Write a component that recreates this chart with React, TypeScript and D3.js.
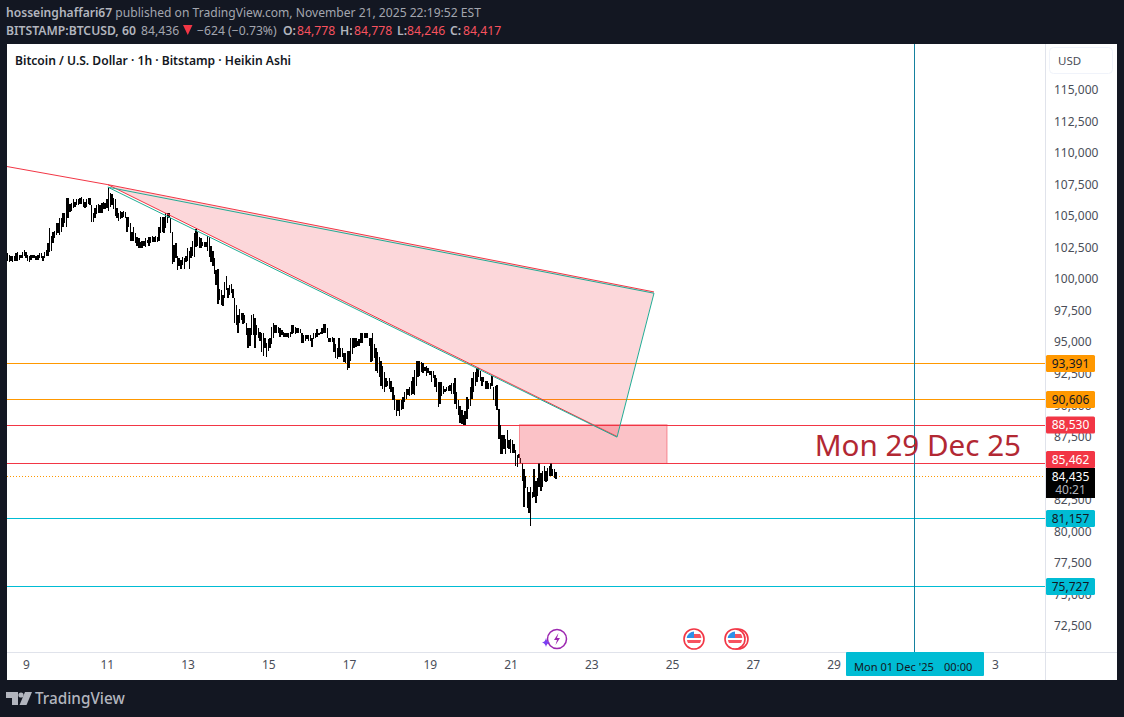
import { useEffect, useRef } from "react";
import * as d3 from "d3";

// hourly Heikin Ashi bars, thousands of USD, last bar is the one below
const lastBarTime = "2025-11-22T03:00:00Z";

const barHigh = [
  102.1,102.0,101.9,101.9,101.9,102.1,102.2,102.0,102.0,102.2,
  102.4,102.2,102.0,101.9,102.0,102.0,102.0,101.9,102.0,102.1,
  102.1,101.9,102.2,102.4,102.9,104.1,103.5,103.8,103.9,104.5,
  104.5,104.9,104.9,105.3,105.3,106.5,106.5,106.0,106.1,106.4,
  106.2,106.4,106.4,106.5,106.6,106.4,106.2,106.4,106.5,106.5,
  105.9,105.3,105.7,105.9,106.0,105.9,106.1,106.2,106.1,106.4,
  107.4,106.9,106.8,106.5,106.4,105.7,105.3,105.5,105.4,105.5,
  105.4,105.0,105.0,104.5,103.8,104.2,103.7,103.4,103.3,103.0,
  103.1,103.1,103.3,103.2,103.4,103.4,103.5,103.4,103.5,103.4,
  104.2,105.0,105.0,105.0,105.3,105.3,105.3,104.9,103.8,102.8,
  102.9,101.9,101.7,101.6,101.8,101.7,101.9,102.5,102.3,102.6,
  103.1,103.7,104.0,103.8,103.4,103.3,103.0,103.0,103.0,103.5,
  103.4,102.7,102.3,101.7,100.8,100.9,99.3,99.2,98.8,99.8,
  100.3,99.4,99.6,99.7,99.3,98.6,98.0,97.2,97.7,97.4,
  97.4,97.2,96.6,96.2,96.2,97.2,97.3,97.0,96.4,96.2,
  95.9,95.8,95.8,95.4,95.0,95.3,95.4,96.3,96.6,96.4,
  96.4,96.3,96.2,96.0,95.9,95.8,95.8,95.8,95.9,96.4,
  96.4,96.3,96.2,96.2,96.1,95.8,95.6,95.6,95.6,95.6,
  95.6,95.4,95.8,95.8,96.1,95.8,95.9,96.2,96.5,96.5,
  96.2,95.4,95.4,95.5,95.4,94.9,94.6,95.4,94.6,94.6,
  94.2,94.2,94.4,94.4,95.4,95.4,95.4,95.4,95.2,95.3,
  95.8,95.8,95.8,95.8,95.8,95.4,95.4,95.8,94.9,94.6,
  94.3,93.9,93.6,93.2,92.7,92.2,92.0,92.2,92.0,91.5,
  90.9,90.5,90.5,90.5,90.5,90.7,91.1,91.4,91.4,91.5,
  92.0,92.3,92.9,93.6,93.6,93.6,93.5,93.4,93.1,93.2,
  93.0,92.8,92.8,92.8,92.5,92.2,91.9,91.9,91.9,91.6,
  91.4,91.5,91.6,91.7,91.8,91.8,92.2,91.1,90.5,90.0,
  89.7,89.3,89.6,90.7,90.6,91.5,92.2,92.7,92.7,93.0,
  93.0,92.8,92.3,92.3,92.0,92.0,91.8,91.8,92.4,91.5,
  91.6,91.7,89.8,88.5,87.7,87.7,87.4,88.1,87.3,87.4,
  87.3,87.0,86.5,86.1,86.2,85.9,85.5,85.0,84.5,83.6,
  83.2,83.6,83.2,85.0,84.1,84.3,85.5,84.7,84.9,85.3,
  84.9,85.1,85.3,85.5,85.0,85.0,84.8,
];

const barLow = [
  101.5,101.4,101.5,101.4,101.5,101.5,101.5,101.6,101.7,101.7,
  101.9,101.7,101.5,101.4,101.6,101.7,101.7,101.6,101.6,101.7,
  101.7,101.5,101.7,101.9,101.9,102.2,102.3,102.9,103.3,103.6,
  103.7,103.6,103.8,104.2,104.5,104.2,104.9,105.4,105.5,105.7,
  105.8,105.9,105.9,106.0,106.0,105.8,105.7,105.8,106.0,105.9,
  104.6,104.6,104.9,105.2,105.3,105.3,105.3,105.6,105.6,105.7,
  105.5,105.8,105.9,105.6,105.1,104.9,104.7,104.8,104.9,105.0,
  104.9,103.8,104.2,103.1,103.1,103.1,102.9,102.7,102.5,102.5,
  102.5,102.7,102.6,102.9,102.7,102.9,103.0,103.0,103.0,103.0,
  103.1,103.7,103.8,103.7,104.1,104.5,104.9,103.7,101.3,101.4,
  101.7,100.8,101.1,100.9,101.2,100.9,101.4,101.5,100.9,101.7,
  101.9,101.8,102.6,102.7,102.5,102.5,102.7,102.6,102.6,102.3,
  101.8,101.4,101.1,100.5,99.6,98.1,98.4,98.0,97.9,98.6,
  99.2,98.6,98.8,99.0,98.6,96.6,96.4,95.8,96.6,96.8,
  96.5,96.6,95.6,94.6,94.8,95.6,95.6,94.6,95.6,95.4,
  95.2,94.3,94.0,94.6,93.9,94.4,94.6,94.9,95.4,95.8,
  95.8,95.8,95.5,95.6,95.5,95.5,95.5,95.4,95.5,95.7,
  95.8,95.7,95.8,95.8,95.8,95.0,95.0,95.2,95.3,95.2,
  95.2,94.7,95.3,95.4,95.5,95.6,95.7,95.7,95.8,95.8,
  95.4,95.1,95.1,95.1,94.3,93.8,93.7,93.9,93.9,93.9,
  93.5,93.4,92.9,93.0,93.6,94.1,94.6,94.7,94.8,94.8,
  95.0,95.0,95.4,95.4,95.4,94.8,93.5,93.6,93.8,92.8,
  92.6,92.3,91.6,91.4,91.1,91.5,91.6,91.4,91.1,90.5,
  89.7,89.2,89.6,89.2,89.7,89.8,90.3,90.6,90.9,90.8,
  90.9,91.0,90.9,91.6,92.3,92.4,92.7,92.6,92.8,92.4,
  92.6,92.5,91.9,92.2,91.5,91.1,89.9,90.2,90.8,91.0,
  91.1,91.2,91.2,91.2,91.0,91.0,90.2,89.8,89.3,88.7,
  88.6,88.5,88.5,89.0,89.8,90.0,90.6,91.1,91.6,91.9,
  92.3,92.0,91.6,91.9,91.4,91.4,91.4,91.4,91.6,90.5,
  90.0,89.7,87.4,86.2,86.2,86.6,86.2,86.7,86.6,86.3,
  86.3,86.3,85.3,85.2,85.9,85.5,84.1,82.0,83.5,81.9,
  81.5,80.5,82.7,82.8,82.3,82.9,83.6,83.3,83.6,84.1,
  84.0,84.1,84.5,84.5,84.5,84.3,84.2,
];

const priceTicks = [
  115000,112500,110000,107500,105000,102500,100000,97500,95000,92500,
  90000,87500,85000,82500,80000,77500,75000,72500,
];
const dayTicks = [
  "2025-11-09","2025-11-11","2025-11-13","2025-11-15","2025-11-17","2025-11-19",
  "2025-11-21","2025-11-23","2025-11-25","2025-11-27","2025-11-29","2025-12-03",
];

const orangeLevels = [93391, 90606];
const redLevels = [88530, 85462];
const cyanLevels = [81157, 75727];
const lastPrice = 84435;
const crosshairTime = "2025-12-01T00:00:00Z";

// trend drawings: [time, thousands of USD]
const rayPoints: [string, number][] = [["2025-11-08T12:00:00Z", 109.0], ["2025-11-11T00:40:00Z", 107.55]];
const redTriangle: [string, number][] = [
  ["2025-11-11T00:40:00Z", 107.55], ["2025-11-24T13:18:00Z", 99.05], ["2025-11-23T15:19:00Z", 87.6],
];
const tealTriangle: [string, number][] = [
  ["2025-11-11T00:40:00Z", 107.35], ["2025-11-24T13:18:00Z", 98.95], ["2025-11-23T15:19:00Z", 87.55],
];
const zoneTimes = ["2025-11-21T05:21:00Z", "2025-11-24T21:02:00Z"];
const zonePrices = [88530, 85462];

const fmt = d3.format(",");
const uiFont = "'Noto Sans', sans-serif";
const bg = "#131722";

const left = 7, right = 1045, top = 44, axisY = 652;

export default function App() {
  const ref = useRef<SVGSVGElement>(null);

  useEffect(() => {
    const svg = d3.select(ref.current);
    svg.selectAll("*").remove();

    const x = d3.scaleUtc()
      .domain([new Date("2025-11-09T00:00:00Z"), new Date("2025-12-03T00:00:00Z")])
      .range([26, 995]);
    const y = d3.scaleLinear().domain([72500, 115000]).range([627.1, 90.6]);
    const yK = (k: number) => y(k * 1000);
    const px = (d: [string, number]) => [x(new Date(d[0])), yK(d[1])] as [number, number];
    const line = d3.line<[string, number]>().x((d) => px(d)[0]).y((d) => px(d)[1]);

    // frame
    svg.append("rect").attr("width", 1124).attr("height", 717).attr("fill", bg);
    svg.append("rect").attr("x", left).attr("y", top).attr("width", 1110).attr("height", 636).attr("fill", "#fff");

    svg.append("defs").append("clipPath").attr("id", "plot")
      .append("rect").attr("x", left).attr("y", top).attr("width", right - left).attr("height", axisY - top);
    const plot = svg.append("g").attr("clip-path", "url(#plot)");

    // horizontal levels
    const levels = [
      ...orangeLevels.map((v) => ({ v, c: "#ff9800" })),
      ...redLevels.map((v) => ({ v, c: "#f23645" })),
      ...cyanLevels.map((v) => ({ v, c: "#00bcd4" })),
    ];
    plot.append("g").selectAll("line").data(levels).join("line")
      .attr("x1", left).attr("x2", right)
      .attr("y1", (d) => Math.round(y(d.v)) + 0.5).attr("y2", (d) => Math.round(y(d.v)) + 0.5)
      .attr("stroke", (d) => d.c);

    // crosshair style vertical
    const vx = Math.round(x(new Date(crosshairTime))) + 0.5;
    plot.append("line").attr("x1", vx).attr("x2", vx).attr("y1", top).attr("y2", axisY).attr("stroke", "#15819f");

    // last price
    const lastY = Math.round(y(lastPrice)) + 0.5;
    plot.append("line").attr("x1", left).attr("x2", right).attr("y1", lastY).attr("y2", lastY)
      .attr("stroke", "#ff9800").attr("stroke-dasharray", "1 2").attr("shape-rendering", "crispEdges");

    // bars
    const lastMs = +new Date(lastBarTime);
    const barX = (i: number) => x(new Date(lastMs - (barHigh.length - 1 - i) * 3600000));
    plot.append("g").attr("shape-rendering", "crispEdges").selectAll("rect").data(barHigh).join("rect")
      .attr("x", (_, i) => barX(i) - 0.6)
      .attr("width", 1.4)
      .attr("y", (d) => yK(d))
      .attr("height", (d, i) => yK(barLow[i]) - yK(d))
      .attr("fill", "#000");

    // zone box
    const zx0 = x(new Date(zoneTimes[0])), zx1 = x(new Date(zoneTimes[1]));
    plot.append("rect").attr("x", zx0).attr("y", y(zonePrices[0]))
      .attr("width", zx1 - zx0).attr("height", y(zonePrices[1]) - y(zonePrices[0]))
      .attr("fill", "#f23645").attr("fill-opacity", 0.3)
      .attr("stroke", "#f23645").attr("stroke-opacity", 0.5);

    // triangles: pink fill, red on the two long edges, teal outline
    plot.append("path").attr("d", line(redTriangle) + "Z")
      .attr("fill", "#f23645").attr("fill-opacity", 0.2);
    plot.append("path").attr("d", line([redTriangle[1], redTriangle[0], redTriangle[2]]))
      .attr("fill", "none").attr("stroke", "#f23645");
    plot.append("path").attr("d", line(tealTriangle) + "Z").attr("fill", "none").attr("stroke", "#22ab94");
    plot.append("path").attr("d", line(rayPoints)).attr("fill", "none").attr("stroke", "#f23645");

    plot.append("text").attr("x", 1021).attr("y", 456).attr("text-anchor", "end")
      .attr("font-family", uiFont).attr("font-size", 29.6).attr("fill", "#b22833")
      .text("Mon 29 Dec 25");

    // chart title
    svg.append("text").attr("x", 15).attr("y", 65).attr("font-family", uiFont)
      .attr("font-size", 12.1).attr("font-weight", 600).attr("fill", "#131722")
      .text("Bitcoin / U.S. Dollar · 1h · Bitstamp · Heikin Ashi");

    // events row
    const flag = (g: d3.Selection<SVGGElement, unknown, null, undefined>, cx: number) => {
      g.append("circle").attr("cx", cx).attr("cy", 639).attr("r", 10).attr("fill", "#fff").attr("stroke", "#f23645").attr("stroke-width", 1.6);
      g.append("circle").attr("cx", cx).attr("cy", 639).attr("r", 7.5).attr("fill", "#fff");
      g.append("path").attr("d", `M${cx - 7},640 h14 a7.5,7.5 0 0 1 -1,3 h-12 a7.5,7.5 0 0 1 -1,-3Z`).attr("fill", "#f7525f");
      g.append("path").attr("d", `M${cx},634 h6 a7.5,7.5 0 0 1 1.4,4 h-7.4Z`).attr("fill", "#f7525f");
      g.append("path").attr("d", `M${cx - 7.3},638 a7.5,7.5 0 0 1 7.3,-6.4 v6.4Z`).attr("fill", "#2f8fe8");
    };
    const events = svg.append("g");
    flag(events, 738);
    flag(events, 735);
    flag(events, 694);
    events.append("circle").attr("cx", 557).attr("cy", 639).attr("r", 9.5).attr("fill", "#fff").attr("stroke", "#9c27b0").attr("stroke-width", 1.5);
    events.append("path").attr("d", "M558.5,633 l-4.5,7 h3 l-1.5,5 l4.5,-7 h-3Z").attr("fill", "#9c27b0");
    events.append("path").attr("d", "M546,638 q0.8,4 4,4.5 q-3.2,0.6 -4,4.5 q-0.8,-3.9 -4,-4.5 q3.2,-0.5 4,-4.5Z").attr("fill", "#7b3ff2");

    // axes
    const priceAxis = svg.append("g").attr("transform", `translate(${right},0)`)
      .call(d3.axisRight(y).tickValues(priceTicks).tickFormat((d) => fmt(d as number)).tickSize(0).tickPadding(9));
    priceAxis.select(".domain").remove();
    priceAxis.selectAll("text").attr("font-family", uiFont).attr("font-size", 12).attr("fill", "#4a4e59").attr("dy", "0.24em");

    const timeAxis = svg.append("g").attr("transform", `translate(0,${axisY})`)
      .call(d3.axisBottom(x).tickValues(dayTicks.map((d) => new Date(d + "T00:00:00Z")))
        .tickFormat(d3.utcFormat("%-d") as any).tickSize(0).tickPadding(8));
    timeAxis.select(".domain").remove();
    timeAxis.selectAll("text").attr("font-family", uiFont).attr("font-size", 12).attr("fill", "#4a4e59");

    svg.append("line").attr("x1", left).attr("x2", 1117).attr("y1", axisY + 0.5).attr("y2", axisY + 0.5).attr("stroke", "#e0e3eb");
    svg.append("line").attr("x1", right + 0.5).attr("x2", right + 0.5).attr("y1", top).attr("y2", 680).attr("stroke", "#e0e3eb");

    // USD button
    svg.append("rect").attr("x", 1049.5).attr("y", 47.5).attr("width", 63).attr("height", 26).attr("rx", 4)
      .attr("fill", "#fff").attr("stroke", "#f0f3fa");
    svg.append("text").attr("x", 1058).attr("y", 65).attr("font-family", uiFont).attr("font-size", 11.5).attr("fill", "#4a4e59").text("USD");

    // price tags, drawn on top of the tick labels
    const tags = [
      { v: 93391, cy: 363.5, c: "#ff9800", t: "#131722" },
      { v: 90606, cy: 399.5, c: "#ff9800", t: "#131722" },
      { v: 88530, cy: 425, c: "#f23645", t: "#fff" },
      { v: 85462, cy: 459.5, c: "#f23645", t: "#fff" },
      { v: 81157, cy: 518.5, c: "#00bcd4", t: "#131722" },
      { v: 75727, cy: 586.5, c: "#00bcd4", t: "#131722" },
    ];
    const tag = svg.append("g").selectAll("g").data(tags).join("g");
    tag.append("rect").attr("x", 1046).attr("y", (d) => d.cy - 8.5).attr("width", 49).attr("height", 17).attr("rx", 1.5).attr("fill", (d) => d.c);
    tag.append("text").attr("x", 1070.5).attr("y", (d) => d.cy + 4.3).attr("text-anchor", "middle")
      .attr("font-family", uiFont).attr("font-size", 12).attr("fill", (d) => d.t).text((d) => fmt(d.v));

    svg.append("rect").attr("x", 1046).attr("y", 468).attr("width", 49).attr("height", 30).attr("fill", "#000");
    svg.append("text").attr("x", 1070.5).attr("y", 480.5).attr("text-anchor", "middle")
      .attr("font-family", uiFont).attr("font-size", 12).attr("fill", "#fff").text(fmt(lastPrice));
    svg.append("text").attr("x", 1070.5).attr("y", 494).attr("text-anchor", "middle")
      .attr("font-family", uiFont).attr("font-size", 12).attr("fill", "#b2b5be").text("40:21");

    // crosshair date tag
    svg.append("rect").attr("x", 846).attr("y", 652).attr("width", 138).attr("height", 24).attr("rx", 1).attr("fill", "#00bcd4");
    svg.append("text").attr("x", 854).attr("y", 671).attr("font-family", uiFont).attr("font-size", 11.1).attr("fill", "#131722")
      .text("Mon 01 Dec '25");
    svg.append("text").attr("x", 944).attr("y", 671).attr("font-family", uiFont).attr("font-size", 11.1).attr("fill", "#131722")
      .text("00:00");

    // header
    const h1 = svg.append("text").attr("x", 6).attr("y", 17).attr("font-family", uiFont).attr("font-size", 12.1).attr("fill", "#a3a6af");
    h1.append("tspan").attr("font-weight", 600).attr("fill", "#b2b5be").text("hosseinghaffari67");
    h1.append("tspan").text(" published on TradingView.com, November 21, 2025 22:19:52 EST");

    const h2 = svg.append("text").attr("y", 34.5).attr("font-family", uiFont).attr("font-size", 12.2).attr("fill", "#a3a6af");
    h2.append("tspan").attr("x", 6).attr("font-weight", 600).attr("fill", "#b2b5be").text("BITSTAMP:BTCUSD, 60");
    h2.append("tspan").attr("x", 141).text("84,436");
    h2.append("tspan").attr("x", 197).text("−624 (−0.73%)");
    const ohlc = [["O:", "84,778", 283, 297], ["H:", "84,778", 340, 354], ["L:", "84,246", 397, 407], ["C:", "84,417", 450, 463]] as const;
    ohlc.forEach(([k, v, kx, vx2]) => {
      h2.append("tspan").attr("x", kx).attr("font-weight", 600).attr("fill", "#b2b5be").text(k);
      h2.append("tspan").attr("x", vx2).attr("fill", "#f7525f").text(v);
    });
    svg.append("path").attr("d", "M183,25 h9.5 l-4.75,10Z").attr("fill", "#f23645");

    // logo
    const logo = svg.append("g").attr("fill", "#b2b5be");
    logo.append("path").attr("d", "M6,692 h12 v13 h-6 v-7 h-6Z");
    logo.append("circle").attr("cx", 21).attr("cy", 695).attr("r", 2.6);
    logo.append("path").attr("d", "M25,692 h7 l-5.5,13 h-7Z");
    svg.append("text").attr("x", 35).attr("y", 704).attr("font-family", uiFont).attr("font-size", 15.3).attr("font-weight", 500).attr("fill", "#b2b5be").text("TradingView");
  }, []);

  return <svg ref={ref} width={1124} height={717} style={{ position: "absolute", left: 0, top: 0 }} />;
}
